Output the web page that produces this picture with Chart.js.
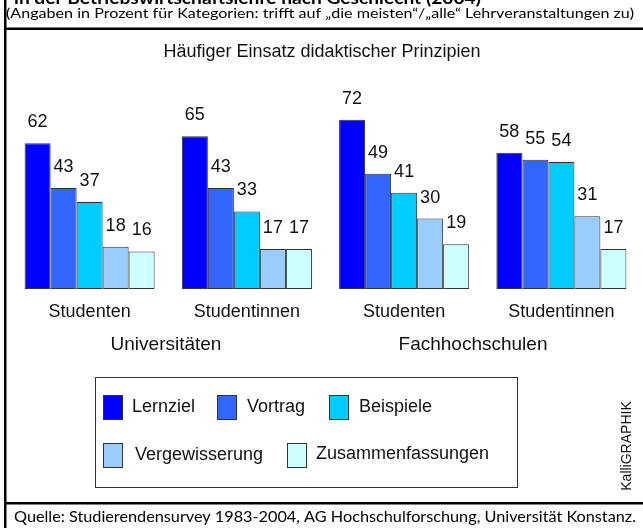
<!DOCTYPE html>
<html><head><meta charset="utf-8">
<script src="https://cdn.jsdelivr.net/npm/chart.js@4"></script>
<style>html,body{margin:0;padding:0;background:#fff;} canvas{display:block}</style>
</head><body><canvas id="c" width="643" height="528"></canvas>
<script>
const categories = ['Studenten','Studentinnen','Studenten','Studentinnen'];
const groupLabels = ['Universitäten','Fachhochschulen'];
const seriesNames = ['Lernziel','Vortrag','Beispiele','Vergewisserung','Zusammenfassungen'];
const lernziel = [62,65,72,58];
const vortrag = [43,43,49,55];
const beispiele = [37,33,41,54];
const vergewisserung = [18,17,30,31];
const zusammenfassungen = [16,17,19,17];
const seriesColors = ['#0000FF','#3366FF','#00CCFF','#99CCFF','#CCFFFF'];
const headerTitle = 'in der Betriebswirtschaftslehre nach Geschlecht (2004)';
const subtitle = '(Angaben in Prozent für Kategorien: trifft auf „die meisten“/„alle“ Lehrveranstaltungen zu)';
const chartTitle = 'Häufiger Einsatz didaktischer Prinzipien';
const sourceNote = 'Quelle: Studierendensurvey 1983-2004, AG Hochschulforschung, Universität Konstanz.';
const credit = 'KalliGRAPHIK';

const seriesValues = [lernziel, vortrag, beispiele, vergewisserung, zusammenfassungen];
const SANS = '"Liberation Sans", Arial, sans-serif';
const NARROW = '"Liberation Sans Narrow", Lato, sans-serif';

function fitText(ctx, text, x, y, targetW, font) {
  ctx.save();
  ctx.font = font;
  ctx.textAlign = 'left';
  ctx.textBaseline = 'alphabetic';
  const w = ctx.measureText(text).width;
  ctx.translate(x, y);
  ctx.scale(targetW / w, 1);
  ctx.fillText(text, 0, 0);
  ctx.restore();
}

const decor = {
  id: 'decor',
  beforeDraw(chart) {
    const ctx = chart.ctx;
    ctx.save();
    ctx.fillStyle = '#fff';
    ctx.fillRect(0, 0, chart.width, chart.height);
    ctx.restore();
  },
  afterDraw(chart) {
    const ctx = chart.ctx;
    const xs = chart.scales.x;
    ctx.save();
    ctx.fillStyle = '#000';
    // frame lines
    ctx.fillRect(4, 0, 2.5, 528);
    ctx.fillRect(4, 27.5, 639, 2.5);
    ctx.fillRect(4, 502, 639, 2.5);
    // header (cut) and subtitle
    fitText(ctx, headerTitle, 14, 4, 467, 'bold 17px ' + NARROW);
    fitText(ctx, subtitle, 6, 18, 628, '14px ' + NARROW);
    fitText(ctx, sourceNote, 14, 522, 622, '15px ' + NARROW);

    // chart title
    ctx.fillStyle = '#111';
    ctx.font = '18px ' + SANS;
    ctx.textAlign = 'center';
    ctx.textBaseline = 'alphabetic';
    ctx.fillText(chartTitle, 322, 57);

    // value labels
    chart.data.datasets.forEach((ds, di) => {
      const meta = chart.getDatasetMeta(di);
      meta.data.forEach((el, i) => {
        ctx.fillText(String(ds.data[i]), el.x, el.y - 16);
      });
    });

    // category labels
    categories.forEach((c, i) => {
      ctx.fillText(c, xs.getPixelForValue(i), 317);
    });
    // group labels
    ctx.font = '19px ' + SANS;
    ctx.fillText(groupLabels[0], 166, 350);
    ctx.fillText(groupLabels[1], 473, 350);

    // legend box
    ctx.font = '18px ' + SANS;
    ctx.strokeStyle = '#333';
    ctx.lineWidth = 1;
    ctx.strokeRect(95.5, 377.5, 422, 110);
    const items = [
      {sx: 103, sy: 395, tx: 132, ty: 412},
      {sx: 217, sy: 395, tx: 247, ty: 412},
      {sx: 329, sy: 395, tx: 359, ty: 412},
      {sx: 103, sy: 443, tx: 135, ty: 460},
      {sx: 287, sy: 443, tx: 316, ty: 459}
    ];
    ctx.textAlign = 'left';
    items.forEach((it, k) => {
      ctx.fillStyle = seriesColors[k];
      ctx.fillRect(it.sx, it.sy, 20, 25);
      ctx.strokeStyle = '#333';
      ctx.strokeRect(it.sx + 0.5, it.sy + 0.5, 19, 24);
      ctx.fillStyle = '#111';
      ctx.fillText(seriesNames[k], it.tx, it.ty);
    });

    // credit
    ctx.save();
    ctx.translate(627, 446);
    ctx.rotate(-Math.PI / 2);
    ctx.font = '14px ' + SANS;
    ctx.textAlign = 'center';
    ctx.textBaseline = 'middle';
    ctx.fillText(credit, 0, 0);
    ctx.restore();
    ctx.restore();
  }
};

new Chart(document.getElementById('c'), {
  type: 'bar',
  data: {
    labels: categories,
    datasets: seriesNames.map((n, k) => ({
      label: n,
      data: seriesValues[k],
      backgroundColor: seriesColors[k],
      borderColor: '#333',
      borderWidth: 1,
      borderSkipped: false,
      barPercentage: 1,
      categoryPercentage: 0.827
    }))
  },
  options: {
    responsive: false,
    animation: false,
    layout: {padding: {left: 11, right: 3, top: 101, bottom: 239}},
    scales: {
      x: {display: false},
      y: {display: false, min: 0, max: 80}
    },
    plugins: {legend: {display: false}, title: {display: false}, tooltip: {enabled: false}}
  },
  plugins: [decor]
});
</script>
</body></html>
